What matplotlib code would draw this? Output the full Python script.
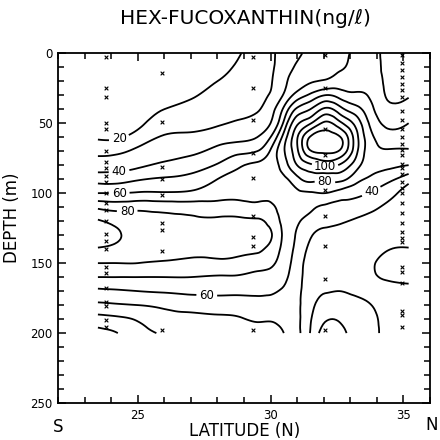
import numpy as np
import matplotlib.pyplot as plt
import matplotlib.tri as mtri

# grid columns (deg N) and depths (m) of the contoured section
lat = [23.5, 24.25, 25.0, 26.0, 27.0, 28.0, 28.75, 29.5, 30.0, 30.5, 31.0, 31.5, 32.05, 32.6,
       33.2, 33.8, 34.4, 35.2]
depth = [0, 10, 20, 30, 40, 50, 60, 70, 80, 90, 100, 110, 120, 130, 140, 150, 160, 170, 180, 190, 200]

c23_5 = [10, 10, 11, 12, 14, 16, 19, 27, 35, 46, 60, 78, 91, 95, 89, 80, 70, 58, 48, 36, 27]
c24_25 = [10, 10, 11, 12, 14, 16, 19, 28, 36, 46, 60, 76, 87, 91, 87, 80, 70, 59, 49, 38, 30]
c25_0 = [11, 12, 13, 14, 16, 18, 24, 32, 38, 49, 61, 77, 84, 86, 84, 80, 70, 60, 50, 41, 36]
c26_0 = [12, 13, 15, 17, 20, 25, 31, 36, 42, 51, 61, 76, 83, 85, 83, 79, 70, 61, 52, 46, 41]
c27_0 = [13, 15, 17, 19, 23, 27, 32, 38, 45, 53, 62, 75, 82, 84, 82, 78, 70, 62, 54, 47, 43]
c28_0 = [16, 18, 20, 23, 26, 29, 35, 43, 51, 60, 66, 74, 82, 84, 82, 78, 69, 62, 55, 48, 44]
c28_75 = [19, 21, 23, 25, 27, 31, 37, 47, 58, 63, 67, 74, 82, 83, 82, 77, 69, 62, 55, 49, 45]
c29_5 = [24, 25, 26, 27, 29, 34, 40, 50, 62, 65, 67, 73, 81, 82, 81, 75, 67, 62, 56, 51, 46]
c30_0 = [28, 28, 29, 31, 36, 40, 50, 61, 65, 66, 67, 72, 77, 81, 77, 72, 66, 61, 57, 51, 46]
c30_5 = [34, 36, 38, 41, 52, 62, 74, 79, 75, 68, 65, 66, 67, 68, 67, 65, 62, 59, 56, 53, 50]
c31_0 = [38, 41, 44, 54, 72, 88, 99, 98, 90, 77, 68, 64, 61, 59, 57, 55, 54, 53, 52, 52, 52]
c31_5 = [44, 46, 49, 62, 80, 99, 121, 119, 98, 83, 69, 62, 56, 51, 48, 46, 45, 44, 43, 41, 39.5]
c32_05 = [46, 48, 51, 70, 92, 112, 125, 122, 103, 82, 70, 58, 52, 48, 46, 44, 42, 40.5, 36, 31, 26]
c32_6 = [47, 49, 54, 66, 84, 103, 121, 119, 99, 83, 66, 57, 51, 48, 46, 44, 42, 40, 36, 31, 27]
c33_2 = [52, 53, 56, 62, 74, 87, 95, 94, 85, 74, 63, 55, 49, 46, 45, 44, 43, 41, 38, 35, 33]
c33_8 = [53, 54, 55, 58, 62, 67, 72, 74, 73, 68, 59, 52, 47, 45, 43.5, 41.2, 41.2, 41.5, 40, 38, 37]
c34_4 = [47, 47, 48, 49, 53, 58, 64, 71, 72, 63, 54, 48, 45, 43, 40.5, 37, 39, 42, 43, 43, 43]
c35_2 = [45, 46, 47, 49, 55, 60, 65, 71, 70, 54, 45, 42, 41, 42, 39.5, 36, 38, 42, 44, 44, 43]

levels = [20, 30, 40, 50, 60, 70, 80, 90, 100, 110, 120]

# contour labels as printed on the section, with their positions (lat, depth)
label_text = ['20', '40', '60', '80', '60', '100', '80', '40']
label_pos = [(24.3, 61), (24.3, 85), (24.3, 100), (24.6, 112), (27.6, 172.5),
             (32.05, 81.4), (32.05, 91), (33.8, 99)]

# sample depths at each station
st_23_8 = [3, 25, 31, 50, 54, 70, 78, 82, 88, 92, 100, 107, 112, 120, 129, 134, 140, 153, 157,
           168, 178, 181, 191, 196]
st_26 = [14, 49, 81, 90, 101, 121, 126, 141, 198]
st_29_3 = [3, 25, 48, 71, 89, 116, 131, 138, 198]
st_32_1 = [1, 25, 54, 73, 98, 116, 138, 161, 198]
st_35 = [1, 7, 12, 17, 22, 26, 31, 41, 48, 54, 60, 65, 69, 73, 79, 82, 86, 92, 96, 100, 107, 114,
         121, 128, 132, 135, 153, 156, 164, 184, 187, 196]

columns = [c23_5, c24_25, c25_0, c26_0, c27_0, c28_0, c28_75, c29_5, c30_0, c30_5, c31_0,
           c31_5, c32_05, c32_6, c33_2, c33_8, c34_4, c35_2]
z = np.array(columns, dtype=float).T
LAT, DEP = np.meshgrid(lat, depth)
ny, nx = z.shape
tris = []
for j in range(ny - 1):
    for i in range(nx - 1):
        k = j * nx + i
        tris.append([k, k + 1, k + nx])
        tris.append([k + 1, k + nx + 1, k + nx])
# smooth (cubic) refinement, done in roughly isotropic units
sc = 19.0
tri = mtri.Triangulation(LAT.ravel(), DEP.ravel() / sc, np.array(tris))
tri_f, z_f = mtri.UniformTriRefiner(tri).refine_field(z.ravel(), subdiv=3)
tri_f = mtri.Triangulation(tri_f.x, tri_f.y * sc, tri_f.triangles)

fig = plt.figure(figsize=(4.4, 4.4), dpi=100)
ax = fig.add_axes([0.132, 0.084, 0.845, 0.795])

cs = ax.tricontour(tri_f, z_f, levels=levels, colors='black', linewidths=1.3)
texts = ax.clabel(cs, fmt='%d', manual=label_pos, fontsize=8.5, inline=True, inline_spacing=5)
for t, s in zip(texts, label_text):
    t.set_text(s)
    t.set_rotation(0)

mk = dict(marker='x', color='black', s=7, linewidths=0.8, zorder=3)
ax.scatter([23.8] * len(st_23_8), st_23_8, **mk)
ax.scatter([25.9] * len(st_26), st_26, **mk)
ax.scatter([29.35] * len(st_29_3), st_29_3, **mk)
ax.scatter([32.05] * len(st_32_1), st_32_1, **mk)
ax.scatter([34.95] * len(st_35), st_35, **mk)

ax.set_xlim(22, 36)
ax.set_ylim(250, 0)
ax.set_xticks([25, 30, 35])
ax.set_xticks(np.arange(22, 37, 1), minor=True)
ax.set_yticks([0, 50, 100, 150, 200, 250])
ax.set_yticks(np.arange(0, 251, 10), minor=True)
ax.tick_params(which='both', direction='in', top=True, right=True, width=1.1)
ax.tick_params(which='major', length=6, labelsize=8.5, pad=4)
ax.tick_params(which='minor', length=4.5)
for s in ax.spines.values():
    s.set_linewidth(1.3)

fig.text(0.557, 0.958, 'HEX-FUCOXANTHIN(ng/ℓ)', ha='center', va='center', fontsize=14.5)
fig.text(0.027, 0.505, 'DEPTH (m)', rotation=90, ha='center', va='center', fontsize=12)
fig.text(0.555, 0.021, 'LATITUDE (N)', ha='center', va='center', fontsize=12)
fig.text(0.132, 0.03, 'S', ha='center', va='center', fontsize=12)
fig.text(0.982, 0.034, 'N', ha='center', va='center', fontsize=12)

fig.savefig('out.png', dpi=100)
